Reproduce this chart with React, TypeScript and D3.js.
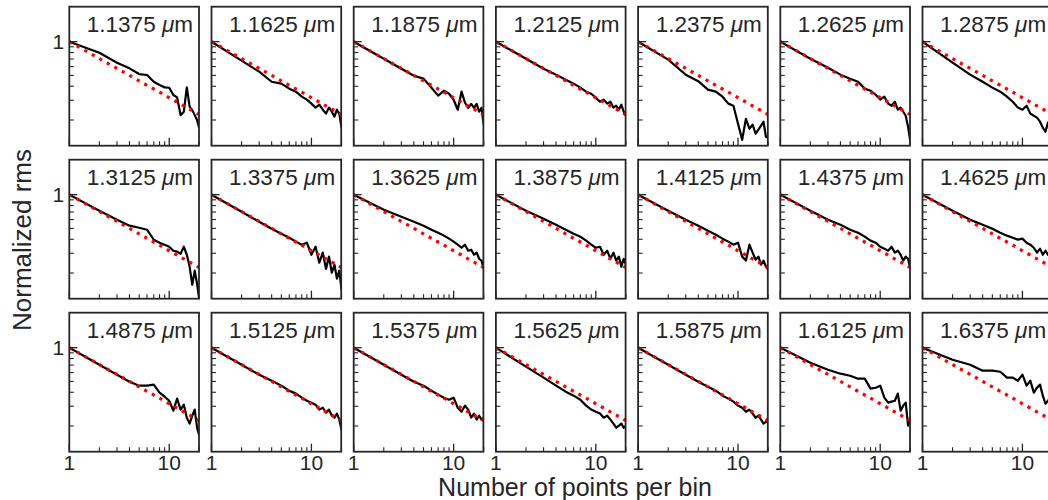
import React from 'react';
import * as d3 from 'd3';

const wavelengths = ['1.1375','1.1625','1.1875','1.2125','1.2375','1.2625','1.2875','1.3125','1.3375','1.3625','1.3875','1.4125','1.4375','1.4625','1.4875','1.5125','1.5375','1.5625','1.5875','1.6125','1.6375'];
const binSizes = [1,2,3,4,5,6,7,8,9,10,11,12,13,14,15,16,17,18,19,20];
const expectedRms = [1,0.707,0.577,0.5,0.447,0.408,0.378,0.354,0.333,0.316,0.302,0.289,0.277,0.267,0.258,0.25,0.243,0.236,0.229,0.224];

const rms1137 = [1,0.798,0.649,0.578,0.514,0.504,0.439,0.410,0.391,0.388,0.334,0.318,0.221,0.237,0.391,0.263,0.245,0.221,0.200,0.168];
const rms1162 = [1,0.677,0.540,0.439,0.422,0.381,0.358,0.323,0.304,0.280,0.258,0.274,0.247,0.228,0.258,0.237,0.214,0.247,0.228,0.171];
const rms1187 = [1,0.705,0.574,0.497,0.468,0.388,0.330,0.365,0.343,0.303,0.247,0.358,0.285,0.257,0.279,0.257,0.279,0.237,0.257,0.182];
const rms1212 = [1,0.705,0.574,0.508,0.458,0.422,0.389,0.358,0.343,0.316,0.291,0.304,0.280,0.291,0.258,0.268,0.247,0.274,0.237,0.218];
const rms1237 = [1,0.691,0.507,0.444,0.373,0.358,0.323,0.280,0.268,0.185,0.133,0.205,0.167,0.182,0.151,0.164,0.178,0.193,0.142,0.139];
const rms1262 = [1,0.705,0.586,0.508,0.467,0.439,0.381,0.365,0.336,0.304,0.323,0.280,0.268,0.291,0.247,0.258,0.237,0.218,0.174,0.128];
const rms1287 = [1,0.650,0.508,0.439,0.389,0.358,0.323,0.291,0.258,0.247,0.268,0.228,0.218,0.210,0.193,0.171,0.157,0.189,0.174,0.164];
const rms1312 = [1,0.720,0.598,0.529,0.507,0.487,0.396,0.373,0.358,0.343,0.316,0.310,0.297,0.343,0.291,0.228,0.157,0.210,0.160,0.115];
const rms1337 = [1,0.705,0.574,0.497,0.449,0.413,0.381,0.358,0.373,0.291,0.343,0.247,0.304,0.218,0.280,0.201,0.237,0.178,0.210,0.142];
const rms1362 = [1,0.735,0.636,0.574,0.529,0.487,0.458,0.431,0.405,0.381,0.358,0.336,0.358,0.316,0.323,0.291,0.304,0.268,0.258,0.218];
const rms1387 = [1,0.720,0.611,0.540,0.487,0.449,0.422,0.389,0.358,0.336,0.343,0.291,0.316,0.268,0.304,0.258,0.280,0.228,0.268,0.237];
const rms1412 = [1,0.720,0.598,0.529,0.477,0.439,0.405,0.381,0.358,0.373,0.280,0.258,0.358,0.304,0.263,0.280,0.237,0.258,0.228,0.214];
const rms1437 = [1,0.720,0.598,0.540,0.487,0.458,0.422,0.389,0.373,0.343,0.330,0.316,0.343,0.304,0.316,0.291,0.258,0.280,0.268,0.218];
const rms1462 = [1,0.720,0.598,0.540,0.497,0.458,0.431,0.413,0.397,0.405,0.373,0.358,0.336,0.304,0.330,0.291,0.316,0.291,0.323,0.323];
const rms1487 = [1,0.705,0.574,0.497,0.458,0.458,0.468,0.397,0.365,0.336,0.274,0.351,0.280,0.310,0.237,0.210,0.247,0.280,0.193,0.164];
const rms1512 = [1,0.705,0.574,0.508,0.458,0.413,0.389,0.358,0.336,0.323,0.310,0.280,0.291,0.263,0.280,0.247,0.237,0.258,0.228,0.185];
const rms1537 = [1,0.705,0.574,0.497,0.458,0.413,0.381,0.358,0.343,0.358,0.291,0.268,0.304,0.280,0.237,0.258,0.228,0.247,0.228,0.237];
const rms1562 = [1,0.677,0.540,0.458,0.405,0.373,0.343,0.304,0.280,0.268,0.258,0.237,0.247,0.228,0.210,0.193,0.201,0.210,0.193,0.201];
const rms1587 = [1,0.705,0.574,0.497,0.449,0.413,0.373,0.351,0.330,0.304,0.291,0.268,0.280,0.258,0.237,0.247,0.228,0.210,0.218,0.223];
const rms1612 = [1,0.735,0.636,0.586,0.562,0.529,0.529,0.431,0.439,0.458,0.358,0.323,0.330,0.336,0.389,0.274,0.304,0.323,0.201,0.237];
const rms1637 = [1,0.781,0.705,0.623,0.623,0.610,0.540,0.540,0.507,0.574,0.458,0.507,0.397,0.440,0.468,0.373,0.316,0.336,0.358,0.343];

const measuredRms = [rms1137,rms1162,rms1187,rms1212,rms1237,rms1262,rms1287,rms1312,rms1337,rms1362,rms1387,rms1412,rms1437,rms1462,rms1487,rms1512,rms1537,rms1562,rms1587,rms1612,rms1637];

const xMajorTicks = [1, 10];
const xMinorTicks = [2,3,4,5,6,7,8,9,20];
const yMajorTicks = [1];
const yMinorTicks = [0.2,0.3,0.4,0.5,0.6,0.7,0.8,0.9];

const W = 1048, H = 500;
const PW = 129.7, PH = 139;
const LEFT0 = 69.3, COLSTEP = 142.2, TOP0 = 6.7, ROWSTEP = 153;
const NCOL = 7;
const FONT = '"Liberation Sans", Arial, Helvetica, sans-serif';
const INK = '#262626';

export default function App() {
  const x = d3.scaleLog().domain([1, 20]).range([0, 130]);
  const y = d3.scaleLog().domain([0.1179, 2.053]).range([PH, 0]);
  const line = d3.line<number>().x((_, i) => x(binSizes[i])).y(d => y(d));

  return (
    <svg width={W} height={H} style={{ position: 'absolute', left: 0, top: 0, background: '#fff' }}
      fontFamily={FONT}>
      <rect x={0} y={0} width={W} height={H} fill="#fff" />
      <defs>
        <clipPath id="pclip"><rect x={0} y={0} width={PW} height={PH} /></clipPath>
      </defs>
      {measuredRms.map((vals, k) => {
        const r = Math.floor(k / NCOL), c = k % NCOL;
        const tx = LEFT0 + c * COLSTEP, ty = TOP0 + r * ROWSTEP;
        return (
          <g key={k} transform={`translate(${tx},${ty})`}>
            <g clipPath="url(#pclip)">
              <path d={line(vals) || ''} fill="none" stroke="#000" strokeWidth={2.2} strokeLinejoin="round" />
              <path d={line(expectedRms) || ''} fill="none" stroke="#ff0000" strokeWidth={3.2} strokeDasharray="3.2 5.4" />
            </g>
            {xMajorTicks.map(t => (
              <line key={'xM' + t} x1={x(t)} x2={x(t)} y1={PH} y2={PH - 8} stroke={INK} strokeWidth={1.3} />
            ))}
            {xMinorTicks.map(t => (
              <line key={'xm' + t} x1={x(t)} x2={x(t)} y1={PH} y2={PH - 4.5} stroke={INK} strokeWidth={1.1} />
            ))}
            {yMajorTicks.map(t => (
              <line key={'yM' + t} x1={0} x2={8} y1={y(t)} y2={y(t)} stroke={INK} strokeWidth={1.3} />
            ))}
            {yMinorTicks.map(t => (
              <line key={'ym' + t} x1={0} x2={4.5} y1={y(t)} y2={y(t)} stroke={INK} strokeWidth={1.1} />
            ))}
            <rect x={0} y={0} width={PW} height={PH} fill="none" stroke={INK} strokeWidth={1.8} />
            <text x={PW - 6} y={25} textAnchor="end" fontSize={22.5} fill={INK}>
              {wavelengths[k] + ' '}<tspan fontStyle="italic">μ</tspan>m
            </text>
            {c === 0 && yMajorTicks.map(t => (
              <text key={'yl' + t} x={-5} y={y(t) + 7.5} textAnchor="end" fontSize={21} fill={INK}>{t}</text>
            ))}
            {r === 2 && xMajorTicks.map(t => (
              <text key={'xl' + t} x={x(t)} y={PH + 18} textAnchor="middle" fontSize={21} fill={INK}>{t}</text>
            ))}
          </g>
        );
      })}
      <text x={575} y={496} textAnchor="middle" fontSize={25} fill={INK}>Number of points per bin</text>
      <text transform="translate(31,240) rotate(-90)" textAnchor="middle" fontSize={26} fill={INK}>Normalized rms</text>
    </svg>
  );
}
